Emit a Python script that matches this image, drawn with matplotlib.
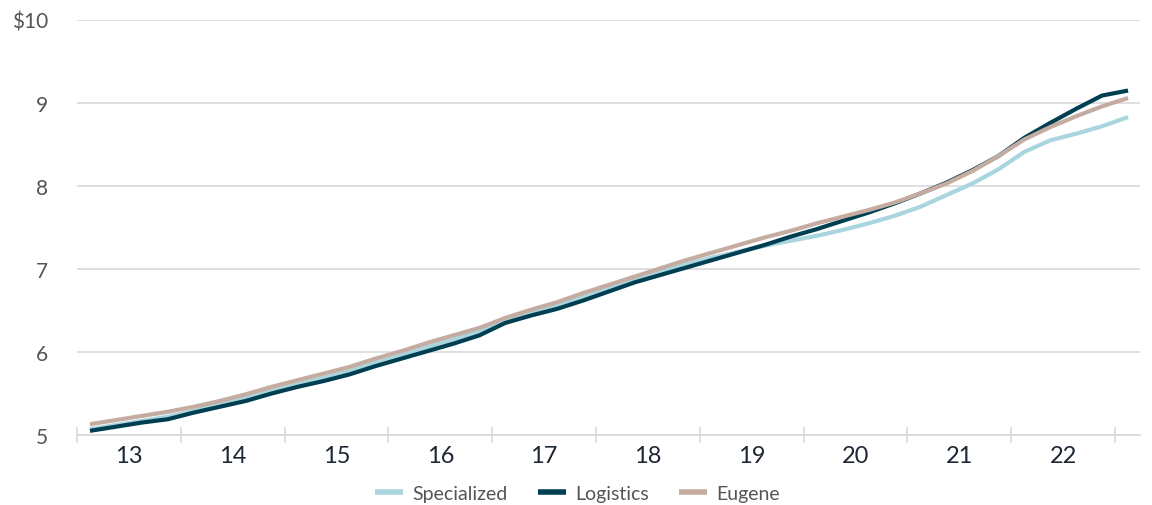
import numpy as np
import matplotlib.pyplot as plt
import matplotlib as mpl

mpl.rcParams["font.family"] = ["Lato", "DejaVu Sans"]

# quarterly points, mid-quarter, 2013 Q1 .. 2023 Q1
years = np.arange(2013, 2023)
quarters = 2013.125 + 0.25 * np.arange(41)

specialized = [5.07, 5.12, 5.17, 5.22, 5.29, 5.37, 5.45, 5.53, 5.61, 5.69,
               5.77, 5.87, 5.96, 6.06, 6.15, 6.25, 6.38, 6.48, 6.57, 6.67,
               6.77, 6.87, 6.97, 7.06, 7.14, 7.21, 7.28, 7.34, 7.40, 7.47,
               7.55, 7.64, 7.75, 7.89, 8.03, 8.20, 8.41, 8.55, 8.63, 8.72,
               8.83]
logistics = [5.05, 5.10, 5.15, 5.19, 5.27, 5.34, 5.41, 5.50, 5.58, 5.65,
             5.73, 5.83, 5.92, 6.01, 6.10, 6.20, 6.35, 6.44, 6.52, 6.62,
             6.73, 6.84, 6.93, 7.02, 7.11, 7.20, 7.29, 7.39, 7.48, 7.58,
             7.68, 7.79, 7.91, 8.04, 8.19, 8.36, 8.58, 8.76, 8.93, 9.09,
             9.15]
eugene = [5.13, 5.18, 5.23, 5.28, 5.34, 5.41, 5.49, 5.58, 5.66, 5.74,
          5.82, 5.92, 6.01, 6.11, 6.20, 6.29, 6.41, 6.51, 6.60, 6.71,
          6.81, 6.91, 7.01, 7.11, 7.20, 7.29, 7.38, 7.46, 7.55, 7.63,
          7.71, 7.80, 7.91, 8.03, 8.18, 8.36, 8.56, 8.71, 8.84, 8.96,
          9.06]

year_labels = ["13", "14", "15", "16", "17", "18", "19", "20", "21", "22"]
y_ticks = [5, 6, 7, 8, 9, 10]
y_labels = ["5", "6", "7", "8", "9", "$10"]

fig = plt.figure(figsize=(11.52, 5.06), dpi=100)
ax = fig.add_axes([77 / 1152, 70 / 506, (1140 - 77) / 1152, 415 / 506])

ax.plot(quarters, specialized, color="#a9d5df", lw=3, label="Specialized",
        solid_capstyle="butt")
ax.plot(quarters, logistics, color="#003f52", lw=3, label="Logistics",
        solid_capstyle="butt")
ax.plot(quarters, eugene, color="#c4aca1", lw=3, label="Eugene",
        solid_capstyle="butt")

ax.set_xlim(2013, 2023.24)
ax.set_ylim(5, 10)

# grid
ax.set_yticks(y_ticks)
ax.set_yticklabels(y_labels, color="#555555", fontsize=15)
ax.yaxis.grid(True, color="#d9d9d9", lw=1.2)
ax.tick_params(axis="y", length=0, pad=21)
for lab in ax.get_yticklabels():
    lab.set_verticalalignment("center_baseline")

# x: ticks on year boundaries, labels in the middle
ax.set_xticks(np.arange(2013, 2024))
ax.set_xticklabels([])
ax.tick_params(axis="x", which="major", direction="inout", length=11,
               color="#d9d9d9", width=1.2)
ax.set_xticks(years + 0.5, minor=True)
ax.set_xticklabels(year_labels, minor=True, fontsize=17, color="#1d2733")
ax.tick_params(axis="x", which="minor", length=0, pad=7)

for s in ["top", "right", "left"]:
    ax.spines[s].set_visible(False)
ax.spines["bottom"].set_color("#d9d9d9")
ax.spines["bottom"].set_linewidth(1.2)
ax.set_axisbelow(True)

leg = ax.legend(loc="center", bbox_to_anchor=(0.471, -0.14),
                ncol=3, frameon=False, fontsize=14, handlelength=1.45,
                handletextpad=0.47, columnspacing=1.55)
for t in leg.get_texts():
    t.set_color("#555555")
for h in leg.get_lines():
    h.set_linewidth(4)

fig.savefig("out.png", dpi=100)
